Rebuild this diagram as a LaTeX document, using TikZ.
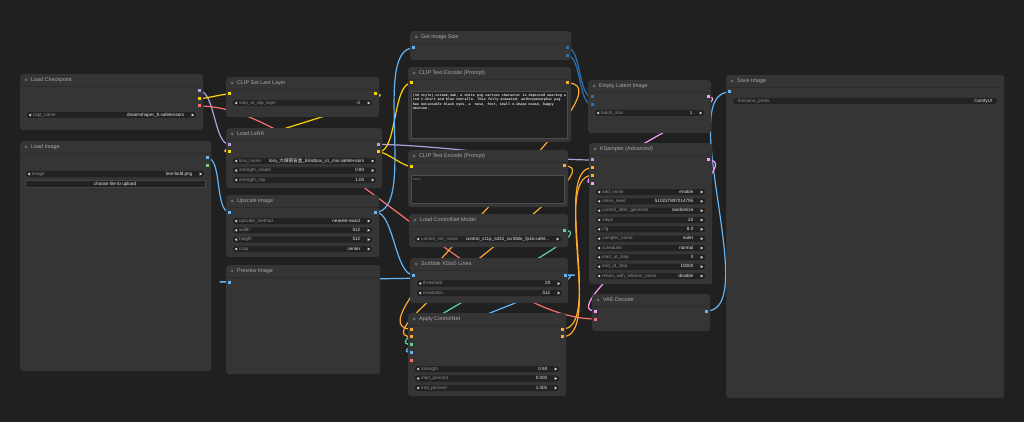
\documentclass[tikz,border=0pt]{standalone}
\usepackage{fontspec}
\setmainfont{Liberation Sans}
\newfontfamily\cjk{Noto Sans CJK SC}
\newfontfamily\monof{Liberation Mono}
\usetikzlibrary{calc}
\pgfdeclarelayer{canvas}\pgfdeclarelayer{wires}\pgfsetlayers{canvas,wires,main}
\definecolor{bgc}{HTML}{202020}
\definecolor{nodec}{HTML}{353535}
\definecolor{sepc}{HTML}{2C2C2C}
\definecolor{dotc}{HTML}{6B6B6B}
\definecolor{titlec}{HTML}{A9A9A9}
\definecolor{labc}{HTML}{8F8F8F}
\definecolor{valc}{HTML}{E6E6E6}
\definecolor{widc}{HTML}{222222}
\definecolor{widb}{HTML}{454545}
\definecolor{arrc}{HTML}{D0D0D0}
\definecolor{taf}{HTML}{222222}
\definecolor{tab}{HTML}{4D4D4D}
\definecolor{cMODEL}{HTML}{B39DDB}
\definecolor{cCLIP}{HTML}{FFD500}
\definecolor{cVAE}{HTML}{FF6E6E}
\definecolor{cIMG}{HTML}{64B5F6}
\definecolor{cMASK}{HTML}{81C784}
\definecolor{cCOND}{HTML}{FFA931}
\definecolor{cCN}{HTML}{5ED6A0}
\definecolor{cLAT}{HTML}{FF9CF9}
\definecolor{cINT}{HTML}{2E6FAE}
\newcount\nodeno
\newcommand\nid{\global\advance\nodeno by 1 }
\newcommand\cnbox[6]{%
  \node[cnode, anchor=north west, minimum width=#4pt-#2pt, minimum height=#5pt-#3pt] (#1) at (#2,#3) {};
  \draw[sepc, line width=0.5pt] (#2,#3+12) -- (#4,#3+12);
  \fill[dotc] (#2+6,#3+6) circle (1.5pt);
  \node[ttl] (#1-t) at (#2+11,#3+6) {#6};}
\newcommand\wdg[5]{%
  \path[pill] (#1,#3-3.5) rectangle (#2,#3+3.5);
  \fill[arrc] (#1+2.6,#3) -- (#1+5.2,#3-1.5) -- (#1+5.2,#3+1.5) -- cycle;
  \fill[arrc] (#2-2.8,#3) -- (#2-5.4,#3-1.5) -- (#2-5.4,#3+1.5) -- cycle;
  \nid\node[wlab] (wl\the\nodeno) at (#1+7,#3) {#4};
  \node[wval] (wv\the\nodeno) at (#2-12.5,#3) {#5};}
\newcommand\prt[4]{\node[port, fill=#4] (#1) at (#2,#3) {};}
\newcommand\lnk[3]{\begin{pgfonlayer}{wires}\draw[wire, #1] let \p1=(#2.center), \p2=(#3.center), \n1={0.25*veclen(\x2-\x1,\y2-\y1)} in (\p1) .. controls (\x1+\n1,\y1) and (\x2-\n1,\y2) .. (\p2);\end{pgfonlayer}}
\begin{document}
\begin{tikzpicture}[x=1pt,y=-1pt,
  cnode/.style={fill=nodec, rounded corners=3pt, draw=none, inner sep=0},
  ttl/.style={text=titlec, font=\fontsize{5.4}{6}\selectfont, inner sep=0, anchor=west, text height=3.9pt, text depth=1.1pt},
  wlab/.style={text=labc, font=\fontsize{4.6}{5}\selectfont, inner sep=0, anchor=west, text height=3.3pt, text depth=0.9pt},
  wval/.style={text=valc, font=\fontsize{4.6}{5}\selectfont, inner sep=0, anchor=east, text height=3.3pt, text depth=0.9pt},
  pill/.style={fill=widc, draw=widb, line width=0.4pt, rounded corners=3.4pt},
  port/.style={inner sep=0, minimum size=3pt, draw=none, rectangle},
  wire/.style={line width=1.2pt},
  mono/.style={text=valc, font=\monof\bfseries\fontsize{3.45}{4}\selectfont, inner sep=0, anchor=base west},
  tarea/.style={fill=taf, draw=tab, line width=0.4pt}]
\useasboundingbox (0,0) rectangle (1024,422);
\begin{pgfonlayer}{canvas}
\fill[bgc] (0,0) rectangle (1024,422);
\end{pgfonlayer}
% ---------- nodes ----------
\cnbox{ckpt}{20}{74}{203}{130}{Load Checkpoint}
\wdg{26}{197}{115}{ckpt\_name}{dreamshaper\_8.safetensors}
\prt{ckpt-model}{199.5}{91}{cMODEL}
\prt{ckpt-clip}{199.5}{98.5}{cCLIP}
\prt{ckpt-vae}{199.5}{106}{cVAE}

\cnbox{loadimg}{20}{141}{211}{371}{Load Image}
\wdg{25}{205}{174}{image}{line-bold.png}
\path[fill=widc, draw=widb, line width=0.4pt] (25,180.5) rectangle (205,187.5);
\node[text=valc, font=\fontsize{4.6}{5}\selectfont, inner sep=0, text height=3.3pt, text depth=0.9pt] (btn) at (115,184) {choose file to upload};
\prt{li-img}{207.5}{158}{cIMG}
\prt{li-mask}{207.5}{165.5}{cMASK}

\cnbox{clipset}{226}{77}{379}{117}{CLIP Set Last Layer}
\wdg{232}{373}{103}{stop\_at\_clip\_layer}{-2}
\prt{cs-in}{229.5}{94}{cCLIP}
\prt{cs-out}{375.5}{94}{cCLIP}

\cnbox{lora}{226}{128}{382}{188}{Load LoRA}
\wdg{232}{377}{161}{lora\_name}{lora\_{\cjk 大眼萌盲盒}\_blindbox\_v1\_mix.safetensors}
\wdg{232}{377}{170.5}{strength\_model}{0.80}
\wdg{232}{377}{180}{strength\_clip}{1.00}
\prt{lo-min}{229.5}{144.5}{cMODEL}
\prt{lo-cin}{229.5}{152}{cCLIP}
\prt{lo-mout}{378.5}{144.5}{cMODEL}
\prt{lo-cout}{378.5}{152}{cCLIP}

\cnbox{upscale}{226}{195}{379}{257}{Upscale Image}
\wdg{232}{373}{221}{upscale\_method}{nearest-exact}
\wdg{232}{373}{230.3}{width}{512}
\wdg{232}{373}{239.6}{height}{512}
\wdg{232}{373}{249}{crop}{center}
\prt{up-in}{229.5}{212}{cIMG}
\prt{up-out}{375.5}{212}{cIMG}

\cnbox{preview}{226}{265}{380}{374}{Preview Image}
\prt{pv-in}{229.5}{282}{cIMG}

\cnbox{getsize}{410}{31}{571}{60}{Get Image Size}
\prt{gs-in}{413.5}{48}{cIMG}
\prt{gs-w}{567.5}{48}{cINT}
\prt{gs-h}{567.5}{55.5}{cINT}

\cnbox{pos}{408}{67}{571}{142}{CLIP Text Encode (Prompt)}
\path[tarea] (411,91) rectangle (567,138);
\node[mono] (pt1) at (412.6,96.7) {(3d style),octane,3ab, a white pig cartoon character is depicted wearing a};
\node[mono] (pt2) at (412.6,101) {red t-shirt and blue overalls. This fully animated, anthropomorphic pig};
\node[mono] (pt3) at (412.6,105.2) {has noticeable black eyes, a~ nose, feet, small v-shape mouse, happy};
\node[mono] (pt4) at (412.6,109.5) {emotion.};
\prt{pos-in}{411.5}{83}{cCLIP}
\prt{pos-out}{567.5}{83}{cCOND}

\cnbox{neg}{408}{150}{568}{207}{CLIP Text Encode (Prompt)}
\path[tarea] (411,175) rectangle (564,203);
\node[mono, text=labc, font=\monof\fontsize{3.45}{4}\selectfont] (nt1) at (412.6,180.2) {text};
\prt{neg-in}{411.5}{166.5}{cCLIP}
\prt{neg-out}{564.5}{166}{cCOND}

\cnbox{cnload}{409}{214}{568}{247}{Load ControlNet Model}
\wdg{414}{562}{239}{control\_net\_name}{control\_v11p\_sd15\_scribble\_fp16.safet...}
\prt{cn-out}{564.5}{230.5}{cCN}

\cnbox{xdog}{410}{258}{568}{303}{Scribble XDoG Lines}
\wdg{416}{563}{283.5}{threshold}{20}
\wdg{416}{563}{293}{resolution}{512}
\prt{xd-in}{413.5}{275}{cIMG}
\prt{xd-out}{565}{275}{cIMG}

\cnbox{apply}{408}{313}{566}{396}{Apply ControlNet}
\wdg{414}{560}{369}{strength}{0.90}
\wdg{414}{560}{378.5}{start\_percent}{0.000}
\wdg{414}{560}{388}{end\_percent}{1.000}
\prt{ap-pos}{411.5}{329}{cCOND}
\prt{ap-neg}{411.5}{336.7}{cCOND}
\prt{ap-cn}{411.5}{344.5}{cCN}
\prt{ap-img}{411.5}{352.3}{cIMG}
\prt{ap-vae}{411.5}{360}{cVAE}
\prt{ap-opos}{562.5}{329}{cCOND}
\prt{ap-oneg}{562.5}{336.7}{cCOND}

\cnbox{latent}{588}{80}{711}{133}{Empty Latent Image}
\wdg{594}{705}{113}{batch\_size}{1}
\prt{la-w}{592}{97}{cINT}
\prt{la-h}{592}{104.5}{cINT}
\prt{la-out}{708}{97}{cLAT}

\cnbox{ks}{589}{143}{712}{284}{KSampler (Advanced)}
\wdg{595}{706}{192}{add\_noise}{enable}
\wdg{595}{706}{201.3}{noise\_seed}{510237897014795}
\wdg{595}{706}{210.7}{control\_after\_generate}{randomize}
\wdg{595}{706}{220}{steps}{20}
\wdg{595}{706}{229.3}{cfg}{8.0}
\wdg{595}{706}{238.7}{sampler\_name}{euler}
\wdg{595}{706}{248}{scheduler}{normal}
\wdg{595}{706}{257.3}{start\_at\_step}{0}
\wdg{595}{706}{266.7}{end\_at\_step}{10000}
\wdg{595}{706}{276}{return\_with\_leftover\_noise}{disable}
\prt{ks-model}{592.5}{160}{cMODEL}
\prt{ks-pos}{592.5}{167.7}{cCOND}
\prt{ks-neg}{592.5}{175.3}{cCOND}
\prt{ks-lat}{592.5}{183}{cLAT}
\prt{ks-out}{708.5}{160}{cLAT}

\cnbox{vae}{592}{294}{710}{331}{VAE Decode}
\prt{vd-s}{595.5}{311}{cLAT}
\prt{vd-v}{595.5}{319}{cVAE}
\prt{vd-out}{706.5}{311}{cIMG}

\cnbox{save}{726}{75}{1004}{398}{Save Image}
\path[pill] (732,97.5) rectangle (998,104.5);
\node[wlab] (svl) at (738,101) {filename\_prefix};
\node[wval] (svv) at (992.5,101) {ComfyUI};
\prt{sv-in}{729.5}{92}{cIMG}
% ---------- links ----------
\lnk{cMODEL}{ckpt-model}{lo-min}
\lnk{cMODEL}{lo-mout}{ks-model}
\lnk{cCLIP}{ckpt-clip}{cs-in}
\lnk{cCLIP}{cs-out}{lo-cin}
\lnk{cCLIP}{lo-cout}{pos-in}
\lnk{cCLIP}{lo-cout}{neg-in}
\lnk{cVAE}{ckpt-vae}{vd-v}
\lnk{cIMG}{li-img}{up-in}
\lnk{cIMG}{up-out}{gs-in}
\lnk{cIMG}{up-out}{xd-in}
\lnk{cIMG}{xd-out}{pv-in}
\lnk{cIMG}{xd-out}{ap-img}
\lnk{cIMG}{vd-out}{sv-in}
\lnk{cINT}{gs-w}{la-w}
\lnk{cINT}{gs-h}{la-h}
\lnk{cCOND}{pos-out}{ap-pos}
\lnk{cCOND}{neg-out}{ap-neg}
\lnk{cCOND}{ap-opos}{ks-pos}
\lnk{cCOND}{ap-oneg}{ks-neg}
\lnk{cCN}{cn-out}{ap-cn}
\lnk{cLAT}{la-out}{ks-lat}
\lnk{cLAT}{ks-out}{vd-s}
\end{tikzpicture}
\end{document}
